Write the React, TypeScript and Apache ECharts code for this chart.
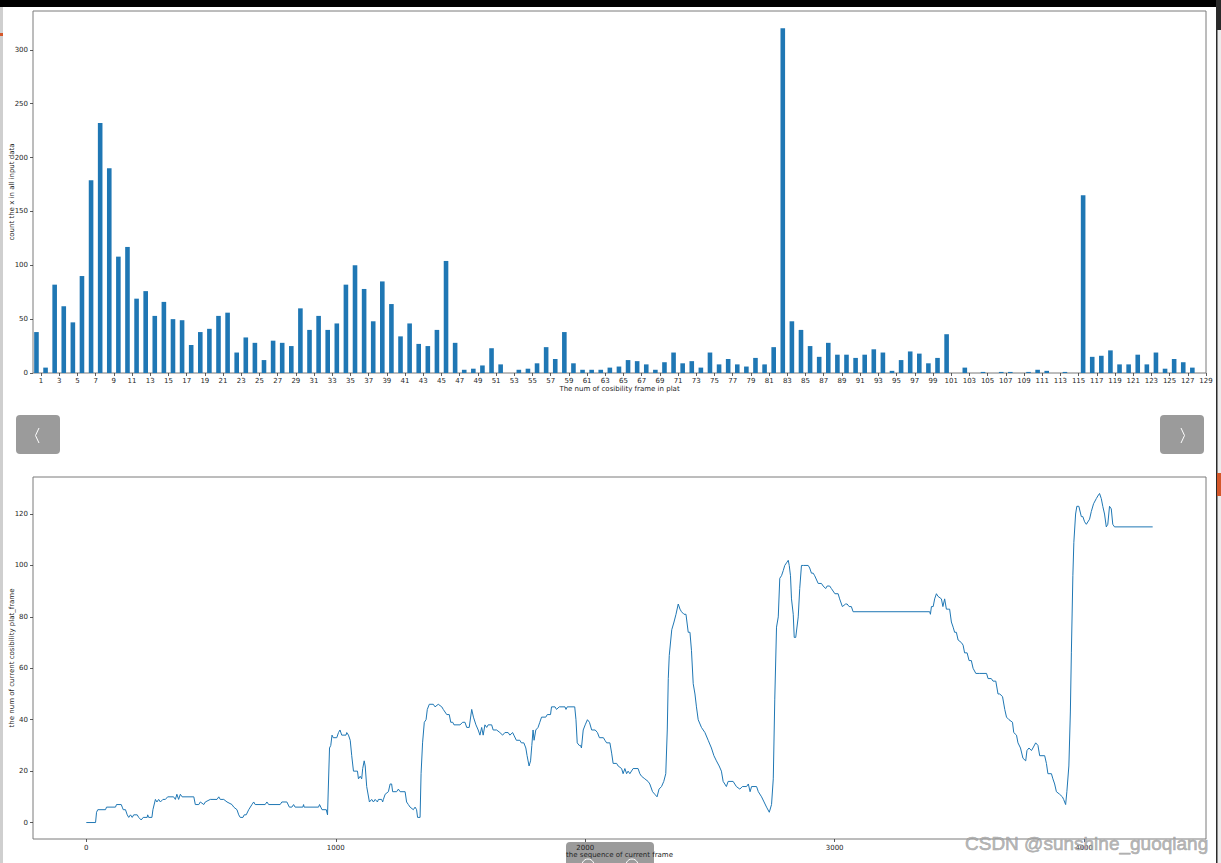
import React, { useEffect, useRef } from "react";
import * as echarts from "echarts";

// ---------- top chart: histogram of cosibility frame counts ----------
const binCounts: number[] = [
  38, 5, 82, 62, 47, 90, 179, 232, 190, 108, 117, 69, 76, 53, 66, 50, 49, 26, 38, 41,
  53, 56, 19, 33, 28, 12, 30, 28, 25, 60, 40, 53, 40, 46, 82, 100, 78, 48, 85, 64,
  34, 46, 27, 25, 40, 104, 28, 3, 4, 7, 23, 8, 0, 3, 4, 9, 24, 13, 38, 9,
  3, 3, 3, 5, 6, 12, 11, 8, 3, 10, 19, 9, 11, 5, 19, 8, 13, 8, 6, 14,
  8, 24, 320, 48, 40, 25, 15, 28, 17, 17, 14, 17, 22, 19, 2, 12, 20, 18, 9, 14,
  36, 0, 5, 0, 1, 0, 1, 1, 0, 1, 3, 2, 0, 1, 0, 165, 15, 16, 21, 8,
  8, 17, 8, 19, 4, 13, 10, 5,
];
const binNumbers: number[] = binCounts.map((_, i) => i + 1);
const topXTicks: number[] = Array.from({ length: 65 }, (_, i) => 1 + 2 * i);
const topYTicks: number[] = [0, 50, 100, 150, 200, 250, 300];

// ---------- bottom chart: cosibility plat_frame per frame ----------
const lineFrames: number[] = [
  0, 37, 41, 46, 77, 81, 117, 121, 140, 144, 148, 157, 164, 170, 177, 184, 190, 204, 210, 220,
  228, 244, 246, 250, 263, 267, 277, 283, 290, 297, 307, 317, 326, 350, 357, 363, 370, 377, 384, 431,
  437, 451, 457, 471, 477, 497, 524, 531, 537, 551, 564, 584, 591, 604, 611, 617, 628, 633, 641, 651,
  664, 671, 677, 717, 724, 731, 777, 784, 804, 814, 824, 831, 837, 868, 871, 873, 931, 935, 940, 945,
  962, 967, 975, 980, 985, 990, 1004, 1011, 1017, 1024, 1041, 1044, 1051, 1058, 1064, 1071, 1087, 1091, 1098, 1104,
  1108, 1114, 1118, 1124, 1135, 1144, 1151, 1158, 1167, 1171, 1184, 1188, 1191, 1198, 1211, 1218, 1224, 1228, 1244, 1251,
  1258, 1278, 1284, 1291, 1298, 1311, 1318, 1324, 1328, 1338, 1342, 1348, 1355, 1362, 1367, 1375, 1391, 1398, 1411, 1425,
  1431, 1445, 1455, 1461, 1469, 1474, 1498, 1509, 1518, 1525, 1535, 1545, 1552, 1562, 1571, 1578, 1585, 1591, 1598, 1605,
  1611, 1625, 1631, 1645, 1658, 1669, 1678, 1691, 1698, 1709, 1714, 1724, 1738, 1744, 1754, 1762, 1767, 1775, 1781, 1786,
  1791, 1795, 1802, 1811, 1818, 1825, 1842, 1848, 1861, 1865, 1879, 1885, 1896, 1919, 1923, 1928, 1958, 1963, 1968, 1976,
  1981, 1985, 1992, 2000, 2009, 2017, 2026, 2040, 2049, 2057, 2073, 2079, 2086, 2099, 2106, 2112, 2126, 2132, 2146, 2152,
  2159, 2166, 2172, 2179, 2192, 2212, 2219, 2226, 2239, 2252, 2259, 2270, 2279, 2288, 2296, 2306, 2315, 2323, 2329, 2333,
  2337, 2347, 2356, 2364, 2373, 2380, 2386, 2396, 2404, 2413, 2420, 2426, 2433, 2440, 2446, 2453, 2466, 2480, 2493, 2506,
  2516, 2526, 2537, 2546, 2553, 2566, 2573, 2593, 2606, 2620, 2630, 2647, 2654, 2661, 2667, 2687, 2694, 2707, 2717, 2727,
  2738, 2747, 2754, 2760, 2767, 2774, 2780, 2787, 2794, 2800, 2807, 2814, 2818, 2823, 2827, 2834, 2838, 2844, 2854, 2860,
  2867, 2876, 2894, 2900, 2907, 2914, 2920, 2934, 2947, 2954, 2964, 2970, 2980, 2987, 3001, 3014, 3020, 3031, 3044, 3050,
  3058, 3067, 3074, 3381, 3384, 3388, 3395, 3401, 3408, 3414, 3428, 3434, 3441, 3448, 3455, 3461, 3468, 3475, 3481, 3488,
  3495, 3508, 3515, 3521, 3531, 3539, 3548, 3555, 3566, 3582, 3609, 3615, 3628, 3635, 3646, 3655, 3662, 3673, 3682, 3689,
  3699, 3713, 3718, 3729, 3735, 3745, 3755, 3766, 3771, 3779, 3789, 3795, 3806, 3815, 3822, 3842, 3849, 3855, 3869, 3875,
  3882, 3889, 3902, 3913, 3918, 3926, 3931, 3939, 3945, 3949, 3955, 3959, 3966, 3971, 3979, 3989, 3995, 4002, 4009, 4022,
  4029, 4038, 4049, 4055, 4062, 4069, 4075, 4082, 4089, 4095, 4102, 4109, 4115, 4122, 4275,
];
const lineValues: number[] = [
  0, 0, 4, 5, 5, 6, 6, 7, 7, 6, 5, 5, 3, 2, 3, 2, 3, 3, 2, 1,
  2, 2, 3, 2, 2, 5, 9, 8, 9, 8, 9, 9, 10, 10, 9, 11, 9, 11, 10, 10,
  7, 7, 8, 7, 8, 9, 9, 10, 9, 9, 8, 7, 6, 5, 3, 2, 2, 3, 3, 5,
  7, 8, 7, 7, 8, 7, 7, 8, 8, 6, 6, 7, 6, 6, 7, 6, 6, 7, 6, 5,
  5, 3, 29, 30, 34, 33, 33, 35, 36, 34, 34, 35, 34, 32, 26, 20, 20, 17, 18, 17,
  21, 24, 22, 14, 8, 9, 8, 9, 8, 9, 9, 8, 9, 11, 12, 15, 15, 12, 12, 13,
  12, 12, 8, 7, 6, 5, 6, 5, 2, 2, 19, 31, 39, 40, 44, 46, 46, 45, 46, 45,
  44, 42, 42, 39, 39, 38, 38, 39, 39, 37, 37, 44, 41, 38, 36, 34, 37, 34, 38, 37,
  38, 38, 36, 36, 35, 34, 35, 35, 34, 35, 34, 32, 32, 31, 31, 29, 26, 22, 24, 30,
  36, 32, 36, 37, 39, 41, 41, 42, 42, 45, 45, 44, 45, 45, 44, 45, 45, 40, 31, 30,
  30, 29, 36, 38, 40, 39, 36, 36, 35, 33, 33, 32, 31, 31, 27, 23, 23, 22, 21, 19,
  21, 19, 20, 19, 21, 21, 19, 18, 17, 16, 15, 12, 11, 10, 13, 14, 16, 19, 36, 56,
  65, 75, 78, 81, 85, 83, 82, 81, 81, 74, 74, 67, 54, 50, 45, 40, 37, 35, 32, 29,
  26, 24, 22, 20, 16, 14, 16, 16, 14, 13, 14, 14, 15, 12, 14, 14, 12, 10, 8, 6,
  4, 7, 17, 48, 76, 80, 95, 96, 98, 100, 101, 102, 100, 96, 87, 81, 72, 72, 80, 91,
  100, 100, 100, 99, 97, 97, 96, 93, 93, 92, 91, 92, 92, 91, 89, 89, 87, 84, 85, 85,
  84, 84, 82, 82, 81, 84, 84, 87, 89, 88, 87, 84, 87, 83, 83, 83, 78, 76, 74, 74,
  71, 70, 69, 66, 66, 63, 63, 60, 58, 58, 58, 56, 56, 55, 55, 50, 50, 49, 44, 41,
  40, 39, 35, 34, 31, 29, 25, 24, 28, 29, 28, 29, 31, 30, 26, 26, 23, 19, 19, 17,
  15, 12, 11, 10, 9, 7, 12, 22, 43, 66, 96, 109, 120, 123, 123, 119, 119, 117, 116, 118,
  121, 124, 126, 127, 128, 126, 123, 120, 115, 116, 123, 122, 116, 115, 115,
];
const bottomXTicks: number[] = [0, 1000, 2000, 3000, 4000];
const bottomYTicks: number[] = [0, 20, 40, 60, 80, 100, 120];

const BLUE = "#1f77b4";
const TXT = "#262626";
const FONT = "DejaVu Sans";

export default function App() {
  const ref = useRef<HTMLDivElement>(null);
  useEffect(() => {
    if (!ref.current) return;
    const chart = echarts.init(ref.current, null, { renderer: "svg" });
    const axisLabel = (vals: number[], margin: number) => ({
      customValues: vals,
      fontSize: 7,
      color: TXT,
      fontFamily: FONT,
      margin,
      formatter: (v: number) => String(v),
    });
    const axisTick = (vals: number[]) => ({
      show: true,
      customValues: vals,
      length: 3,
      lineStyle: { color: "#333", width: 0.8 },
    });
    const axisLine = { show: false, onZero: false };
    const nameStyle = { fontSize: 7, color: TXT, fontFamily: FONT };
    chart.setOption({
      animation: false,
      backgroundColor: "#ffffff",
      grid: [
        { left: 33, top: 11, width: 1173, height: 362, show: true, borderColor: "#7a7a7a", borderWidth: 1, containLabel: false, outerBoundsMode: "none" },
        { left: 33, top: 477, width: 1173, height: 362, show: true, borderColor: "#7a7a7a", borderWidth: 1, containLabel: false, outerBoundsMode: "none" },
      ],
      xAxis: [
        {
          type: "value", gridIndex: 0, min: 0.12, max: 129,
          axisLine, splitLine: { show: false },
          axisTick: axisTick(topXTicks), axisLabel: axisLabel(topXTicks, 4),
          name: "The num of cosibility frame in plat", nameLocation: "middle", nameGap: 12,
          nameMoveOverlap: false, nameTextStyle: nameStyle,
        },
        {
          type: "value", gridIndex: 1, min: -213.75, max: 4488.75,
          axisLine, splitLine: { show: false },
          axisTick: axisTick(bottomXTicks), axisLabel: axisLabel(bottomXTicks, 5),
          name: "the sequence of current frame", nameLocation: "middle", nameGap: 12.5,
          nameMoveOverlap: false, nameTextStyle: nameStyle,
        },
      ],
      yAxis: [
        {
          type: "value", gridIndex: 0, min: 0, max: 336,
          axisLine, splitLine: { show: false },
          axisTick: axisTick(topYTicks), axisLabel: axisLabel(topYTicks, 5),
          name: "count the x in all input data", nameLocation: "middle", nameGap: 18, nameRotate: 90,
          nameMoveOverlap: false, nameTextStyle: nameStyle,
        },
        {
          type: "value", gridIndex: 1, min: -6.4, max: 134.4,
          axisLine, splitLine: { show: false },
          axisTick: axisTick(bottomYTicks), axisLabel: axisLabel(bottomYTicks, 5),
          name: "the num of current cosibility plat_frame", nameLocation: "middle", nameGap: 18, nameRotate: 90,
          nameMoveOverlap: false, nameTextStyle: nameStyle,
        },
      ],
      series: [
        {
          type: "bar", xAxisIndex: 0, yAxisIndex: 0,
          data: binNumbers.map((b, i) => [b - 0.5, binCounts[i]]),
          barWidth: 4.6,
          itemStyle: { color: BLUE },
        },
        {
          type: "line", xAxisIndex: 1, yAxisIndex: 1,
          data: lineFrames.map((f, i) => [f, lineValues[i]]),
          showSymbol: false, symbol: "none",
          lineStyle: { color: BLUE, width: 1 },
        },
      ],
      graphic: [
        { type: "rect", shape: { x: 0, y: 0, width: 1221, height: 7 }, style: { fill: "#000" }, z: 100 },
        { type: "rect", shape: { x: 0, y: 7, width: 3, height: 856 }, style: { fill: "#cfcfcf" }, z: 100 },
        { type: "rect", shape: { x: 0, y: 33, width: 3, height: 3 }, style: { fill: "#d4572a" }, z: 101 },
        { type: "rect", shape: { x: 1216, y: 0, width: 5, height: 863 }, style: { fill: "#ececec" }, z: 100 },
        { type: "rect", shape: { x: 1216, y: 0, width: 1.5, height: 863 }, style: { fill: "#2a2a2a" }, z: 101 },
        { type: "rect", shape: { x: 1217, y: 0, width: 4, height: 30 }, style: { fill: "#2a2a2a" }, z: 101 },
        { type: "rect", shape: { x: 1217, y: 473, width: 4, height: 23 }, style: { fill: "#d4572a" }, z: 101 },
        // navigation buttons
        { type: "rect", shape: { x: 16, y: 415, width: 44, height: 39, r: 4 }, style: { fill: "#9b9b9b" }, z: 50 },
        { type: "polyline", shape: { points: [[39, 428], [35.5, 435.5], [39, 443]] }, style: { stroke: "#fff", lineWidth: 1, fill: "none" }, z: 51 },
        { type: "rect", shape: { x: 1160, y: 415, width: 44, height: 39, r: 4 }, style: { fill: "#9b9b9b" }, z: 50 },
        { type: "polyline", shape: { points: [[1181, 428], [1184.5, 435.5], [1181, 443]] }, style: { stroke: "#fff", lineWidth: 1, fill: "none" }, z: 51 },
        // bottom toolbar box
        { type: "rect", shape: { x: 566, y: 842, width: 88, height: 30, r: 4 }, style: { fill: "#9b9b9b" }, z: -10 },
        { type: "circle", shape: { cx: 588, cy: 865, r: 6 }, style: { stroke: "#fff", lineWidth: 1, fill: "none" }, z: -9 },
        { type: "circle", shape: { cx: 632, cy: 865, r: 6 }, style: { stroke: "#fff", lineWidth: 1, fill: "none" }, z: -9 },
        // watermark
        {
          type: "text", x: 965, y: 843, z: 102,
          style: {
            text: "CSDN @sunshine_guoqiang", fontSize: 19, fontFamily: "Liberation Sans",
            fill: "rgba(170,170,170,0.85)", stroke: "rgba(110,110,110,0.6)", lineWidth: 0.6,
            verticalAlign: "middle", align: "left",
          },
        },
      ],
    });
    return () => chart.dispose();
  }, []);
  return (
    <div
      ref={ref}
      style={{ position: "fixed", left: 0, top: 0, width: 1221, height: 863, background: "#fff" }}
    />
  );
}
